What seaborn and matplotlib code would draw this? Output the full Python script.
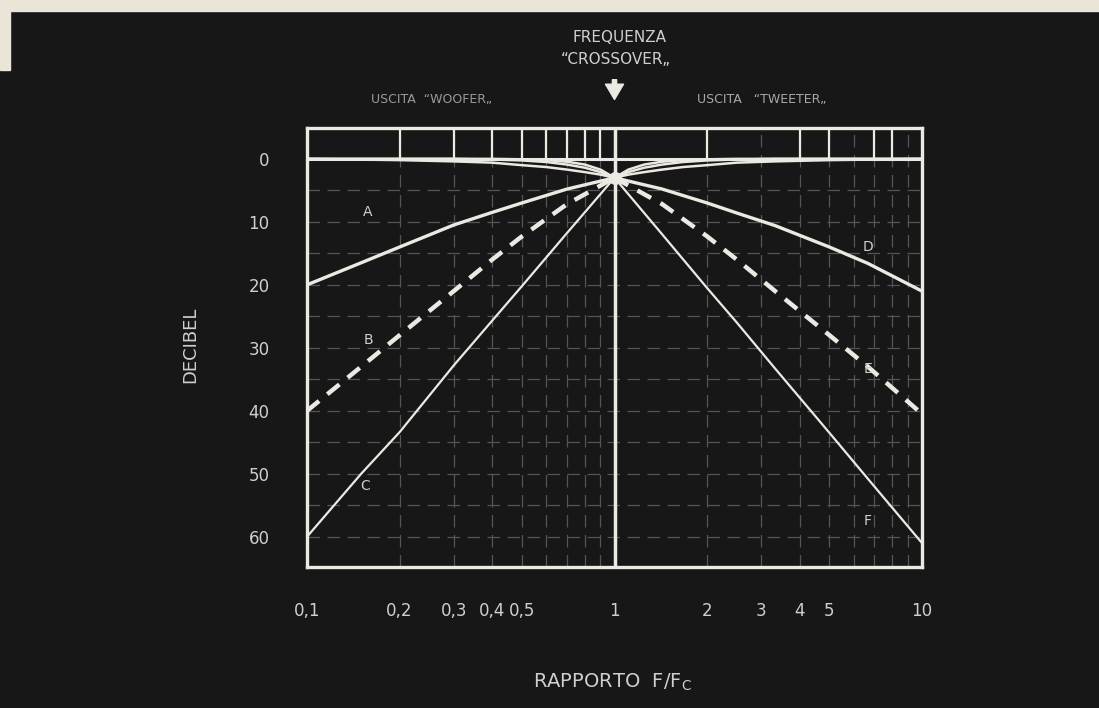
import matplotlib
matplotlib.use("Agg")
import matplotlib.pyplot as plt
import matplotlib.patches as mpatches
import pandas as pd
import seaborn as sns

# --- data (attenuation in dB vs F/Fc) ---
freq_low = [0.1, 0.15, 0.2, 0.3, 0.4, 0.5, 0.7, 1.0]
curve_a = [20.0, 16.5, 14.0, 10.5, 8.5, 7.0, 4.8, 3.0]
curve_b = [40.0, 33.0, 28.0, 21.0, 16.0, 12.3, 7.2, 3.0]
curve_c = [60.0, 50.0, 43.4, 32.8, 25.7, 20.2, 11.8, 3.0]

freq_high = [1.0, 1.43, 2.0, 2.5, 3.33, 5.0, 6.67, 10.0]
curve_d = [3.0, 4.8, 7.0, 8.6, 10.6, 14.0, 16.6, 21.0]
curve_e = [3.0, 7.2, 12.3, 16.0, 21.0, 28.0, 33.0, 40.5]
curve_f = [3.0, 12.0, 20.5, 26.0, 33.3, 43.5, 50.8, 61.0]

# pass-band branches that rise back to 0 dB on each side of the crossover
pass_low_freq = [1.0, 0.9, 0.8, 0.7, 0.6, 0.5, 0.4, 0.3, 0.2, 0.1]
pass_high_freq = [1.0, 1.11, 1.25, 1.43, 1.67, 2.0, 2.5, 3.33, 5.0, 10.0]
pass_1 = [3.0, 2.5, 2.1, 1.7, 1.3, 1.0, 0.6, 0.4, 0.2, 0.0]
pass_2 = [3.0, 2.1, 1.4, 0.9, 0.5, 0.25, 0.1, 0.0, 0.0, 0.0]
pass_3 = [3.0, 1.7, 0.9, 0.45, 0.2, 0.07, 0.0, 0.0, 0.0, 0.0]

curve_names = ["A", "B", "C", "D", "E", "F"]
x_ticks = [0.1, 0.2, 0.3, 0.4, 0.5, 1, 2, 3, 4, 5, 10]
x_ticklabels = ["0,1", "0,2", "0,3", "0,4", "0,5", "1", "2", "3", "4", "5", "10"]
y_ticks = [0, 10, 20, 30, 40, 50, 60]

BG = "#171717"
FG = "#ece9e2"
TXT = "#cfcfcf"

sns.set_theme(style="dark")
plt.rcParams["font.family"] = ["DejaVu Sans"]

fig = plt.figure(figsize=(10.99, 7.08), dpi=100, facecolor=BG)
ax = fig.add_axes([307 / 1099, 1 - 567 / 708, 615 / 1099, 439 / 708])
ax.set_facecolor(BG)

# light paper edge of the scan
fig.patches.append(mpatches.Rectangle((0, 1 - 11 / 708), 1, 11 / 708,
                                      transform=fig.transFigure, color="#ebe5d8", zorder=0))
fig.patches.append(mpatches.Rectangle((0, 1 - 70 / 708), 10 / 1099, 70 / 708,
                                      transform=fig.transFigure, color="#ebe5d8", zorder=0))

ax.set_xscale("log")
ax.set_xlim(0.1, 10)
ax.set_ylim(64.8, -4.9)

# faint broken grid
grid_kw = dict(color="#555555", lw=0.9, ls=(0, (10, 6)), zorder=1)
for yv in range(5, 65, 5):
    ax.axhline(yv, **grid_kw)
for xv in [0.2, 0.3, 0.4, 0.5, 0.6, 0.7, 0.8, 0.9, 2, 3, 4, 5, 6, 7, 8, 9]:
    ax.axvline(xv, **grid_kw)

# top strip with short verticals, 0 dB line and the crossover line
ax.axhline(0, color=FG, lw=2.2, zorder=3)
ax.vlines([0.2, 0.3, 0.4, 0.5, 0.6, 0.7, 0.8, 0.9, 2, 4, 5, 7, 8], -4.9, 0,
          color=FG, lw=1.6, zorder=3)
ax.axvline(1, color=FG, lw=2.5, zorder=3)

# attenuation curves
frames = []
for name, fx, vals in [("A", freq_low, curve_a), ("B", freq_low, curve_b), ("C", freq_low, curve_c),
                       ("D", freq_high, curve_d), ("E", freq_high, curve_e), ("F", freq_high, curve_f)]:
    frames.append(pd.DataFrame({"f": fx, "db": vals, "curve": name}))
df = pd.concat(frames, ignore_index=True)

styles = {"A": ("-", 2.4), "B": ((0, (3.5, 2.4)), 3.2), "C": ("-", 1.6),
          "D": ("-", 2.4), "E": ((0, (3.5, 2.4)), 3.2), "F": ("-", 1.6)}
for name in curve_names:
    ls, lw = styles[name]
    sns.lineplot(data=df[df["curve"] == name], x="f", y="db", ax=ax,
                 color=FG, lw=lw, linestyle=ls, zorder=4)

for vals in [pass_1, pass_2, pass_3]:
    sns.lineplot(x=pass_low_freq, y=vals, ax=ax, color=FG, lw=1.8, zorder=4)
    sns.lineplot(x=pass_high_freq, y=vals, ax=ax, color=FG, lw=1.8, zorder=4)

ax.scatter([1], [3], s=70, color=FG, zorder=5)

# curve letters
label_pos = {"A": (0.158, 8.4), "B": (0.158, 28.7), "C": (0.155, 52),
             "D": (6.68, 14), "E": (6.68, 33.3), "F": (6.68, 57.5)}
for name in curve_names:
    lx, ly = label_pos[name]
    ax.text(lx, ly, name, color=TXT, fontsize=10, ha="center", va="center", zorder=6)

# frame and ticks
for sp in ax.spines.values():
    sp.set_color(FG)
    sp.set_linewidth(2.4)
ax.set_xticks(x_ticks)
ax.set_xticklabels(x_ticklabels)
ax.set_xticks([], minor=True)
ax.set_yticks(y_ticks)
ax.tick_params(axis="both", colors=FG, labelcolor=TXT, labelsize=12,
               direction="out", length=5, width=1.2)
ax.tick_params(axis="x", pad=20)
ax.tick_params(axis="y", pad=22)
ax.grid(False)
ax.set_xlabel("")
ax.set_ylabel("")

# titles and axis names
fig.text(620 / 1099, 1 - 37 / 708, "FREQUENZA", color=TXT, fontsize=11, ha="center", va="center")
fig.text(616 / 1099, 1 - 60 / 708, "\u201cCROSSOVER\u201e", color=TXT, fontsize=11,
         ha="center", va="center")
fig.text(432 / 1099, 1 - 100 / 708, "USCITA  \u201cWOOFER\u201e", color="#9a9a9a", fontsize=9,
         ha="center", va="center")
fig.text(762 / 1099, 1 - 100 / 708, "USCITA   \u201cTWEETER\u201e", color="#a8a8a8", fontsize=9,
         ha="center", va="center")
ax.annotate("", xy=(1, 1.065), xycoords=("data", "axes fraction"),
            xytext=(1, 1.11), textcoords=("data", "axes fraction"),
            arrowprops=dict(facecolor=FG, edgecolor=FG, width=3, headwidth=13, headlength=11))
fig.text(190 / 1099, 1 - 345 / 708, "DECIBEL", color=TXT, fontsize=13, rotation=90,
         ha="center", va="center")
fig.text(612 / 1099, 1 - 682 / 708, "RAPPORTO  F/F$_{\\mathrm{C}}$", color=TXT, fontsize=14,
         ha="center", va="center")

fig.savefig("out.png", dpi=100, facecolor=BG)
